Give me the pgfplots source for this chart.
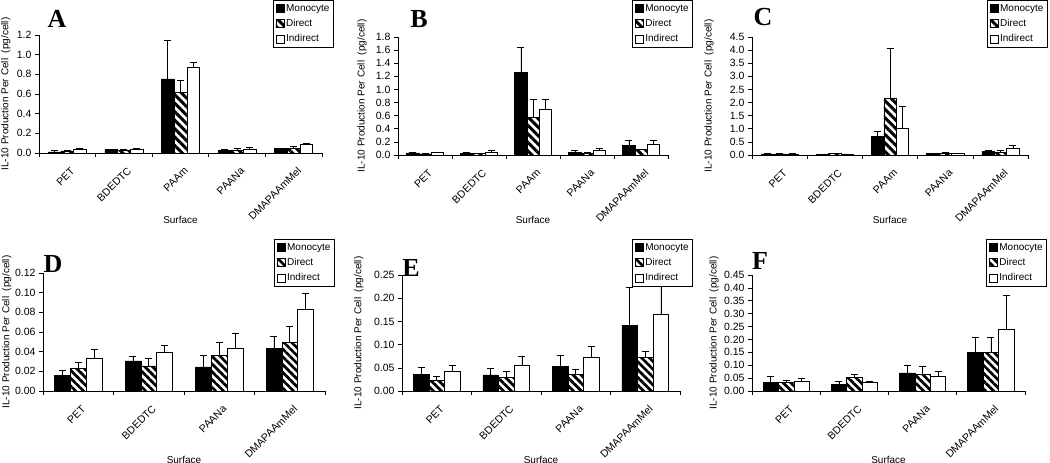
\documentclass[border=0pt]{standalone}
\usepackage{fontspec}
\setmainfont{Liberation Sans}
\newfontfamily\serifbold{Liberation Serif}
\usepackage{pgfplots}
\pgfplotsset{compat=1.18}
\usepackage{pgfplotstable}
\usetikzlibrary{patterns.meta}

% x = category, m/d/i = Monocyte/Direct/Indirect, e = upper error
\pgfplotstableread{
x m me d de i ie
1 0.012 0.012 0.022 0.006 0.038 0.005
2 0.035 0.004 0.025 0.010 0.042 0.003
3 0.754 0.389 0.619 0.120 0.871 0.048
4 0.027 0.006 0.032 0.018 0.042 0.012
5 0.045 0.005 0.050 0.015 0.088 0.007
}\dataA
\pgfplotstableread{
x m me d de i ie
1 0.032 0.012 0.018 0.006 0.035 0.010
2 0.025 0.020 0.020 0.010 0.045 0.025
3 1.264 0.374 0.576 0.268 0.703 0.141
4 0.045 0.025 0.028 0.012 0.065 0.030
5 0.142 0.086 0.080 0.010 0.170 0.058
}\dataB
\pgfplotstableread{
x m me d de i ie
1 0.040 0.010 0.040 0.010 0.040 0.010
2 0.020 0.005 0.050 0.010 0.020 0.005
3 0.710 0.180 2.150 1.920 1.030 0.825
4 0.060 0.020 0.070 0.020 0.060 0.005
5 0.130 0.060 0.100 0.080 0.250 0.130
}\dataC
\pgfplotstableread{
x m me d de i ie
1 0.0157 0.0058 0.0228 0.0065 0.0330 0.0090
2 0.0307 0.0041 0.0256 0.0074 0.0395 0.0069
3 0.0245 0.0116 0.0358 0.0140 0.0430 0.0156
4 0.0436 0.0116 0.0498 0.0163 0.0835 0.0157
}\dataD
\pgfplotstableread{
x m me d de i ie
1 0.0360 0.0160 0.0230 0.0090 0.0420 0.0130
2 0.0346 0.0154 0.0300 0.0120 0.0550 0.0200
3 0.0526 0.0238 0.0360 0.0116 0.0728 0.0237
4 0.1420 0.0806 0.0720 0.0137 0.1657 0.1000
}\dataE
\pgfplotstableread{
x m me d de i ie
1 0.0320 0.0250 0.0320 0.0095 0.0390 0.0116
2 0.0246 0.0114 0.0520 0.0130 0.0340 0.0040
3 0.0700 0.0310 0.0650 0.0310 0.0570 0.0180
4 0.1500 0.0600 0.1500 0.0575 0.2400 0.1300
}\dataF

\pgfplotsset{
  panel/.style={
    scale only axis,
    anchor=south west,
    axis lines*=left,
    axis line style={black, line width=0.8pt},
    tick align=outside,
    major tick length=4pt, minor tick length=4pt,
    ymin=0, xmin=0.5,
    ybar=0pt,
    every major x tick/.append style={draw=none},
    every minor x tick/.append style={black, line width=0.6pt},
    ytick style={black, line width=0.6pt},
    tick label style={font=\fontsize{10.5}{12}\selectfont},
    /pgf/number format/assume math mode=true,
    xticklabel style={rotate=45, anchor=north east, inner sep=1.5pt, xshift=-3pt, yshift=-7pt},
    label style={font=\fontsize{10.5}{12}\selectfont},
    xlabel={Surface},
    ylabel={IL-10 Production Per Cell\ \ (pg/cell)},
    legend image code/.code={\draw[##1] (0pt,-4pt) rectangle (8pt,4pt);},
    legend style={font=\fontsize{10}{12}\selectfont, anchor=north east,
      draw=black, line width=0.8pt, inner sep=2pt, row sep=2.5pt},
    legend cell align=left,
  },
  prec1/.style={yticklabel style={/pgf/number format/.cd, fixed, fixed zerofill, precision=1}},
  prec2/.style={yticklabel style={/pgf/number format/.cd, fixed, fixed zerofill, precision=2}},
  five/.style={xmax=5.5, xtick={1,2,3,4,5}, minor xtick={0.5,1.5,2.5,3.5,4.5,5.5},
    xticklabels={PET,BDEDTC,PAAm,PAANa,DMAPAAmMel}},
  four/.style={xmax=4.5, xtick={1,2,3,4}, minor xtick={0.5,1.5,2.5,3.5,4.5},
    xticklabels={PET,BDEDTC,PAANa,DMAPAAmMel}},
  ylabx/.style={every axis y label/.style={at={(axis description cs:#1,0.5)}, rotate=90, anchor=center}},
  xlaby/.style={every axis x label/.style={at={(axis description cs:0.5,#1)}, anchor=center}},
  errs/.style={error bars/y dir=plus, error bars/y explicit,
    error bars/error bar style={black, line width=0.6pt},
    error bars/error mark options={rotate=90, black, line width=0.6pt, mark size=3.5pt}},
  mono/.style={fill=black, draw=black, line width=0.6pt, errs},
  dirA/.style={draw=black, line width=0.6pt, pattern={Lines[angle=-45,distance=6pt,line width=3pt]}, pattern color=black, errs},
  dirB/.style={draw=black, line width=0.6pt, pattern={Lines[angle=-45,distance=5.5pt,line width=2.7pt]}, pattern color=black, errs},
  indi/.style={fill=white, draw=black, line width=0.6pt, errs},
}

\begin{document}
\begin{tikzpicture}
\useasboundingbox (0,0) rectangle (1050pt,463pt);

% ---------- A ----------
\begin{axis}[panel, five, prec1, at={(39pt,310pt)}, width=283pt, height=118pt,
  ymax=1.2, ytick={0,0.2,0.4,0.6,0.8,1.0,1.2}, bar width=12.7pt,
  ylabx=-0.117, xlaby=-0.568, legend style={at={(1.042,1.297)}}]
\addplot[mono] table[x=x, y=m, y error=me] {\dataA};
\addplot[dirA] table[x=x, y=d, y error=de] {\dataA};
\addplot[indi] table[x=x, y=i, y error=ie] {\dataA};
\legend{Monocyte, Direct, Indirect}
\end{axis}

% ---------- B ----------
\begin{axis}[panel, five, prec1, at={(398pt,308pt)}, width=270pt, height=118pt,
  ymax=1.8, ytick={0,0.2,0.4,0.6,0.8,1.0,1.2,1.4,1.6,1.8}, bar width=12.2pt,
  ylabx=-0.133, xlaby=-0.55, legend style={at={(1.093,1.314)}}]
\addplot[mono] table[x=x, y=m, y error=me] {\dataB};
\addplot[dirA] table[x=x, y=d, y error=de] {\dataB};
\addplot[indi] table[x=x, y=i, y error=ie] {\dataB};
\legend{Monocyte, Direct, Indirect}
\end{axis}

% ---------- C ----------
\begin{axis}[panel, five, prec1, at={(752pt,308pt)}, width=276pt, height=118pt,
  ymax=4.5, ytick={0,0.5,1.0,1.5,2.0,2.5,3.0,3.5,4.0,4.5}, bar width=12.4pt,
  ylabx=-0.156, xlaby=-0.55, legend style={at={(1.072,1.314)}}]
\addplot[mono] table[x=x, y=m, y error=me] {\dataC};
\addplot[dirA] table[x=x, y=d, y error=de] {\dataC};
\addplot[indi] table[x=x, y=i, y error=ie] {\dataC};
\legend{Monocyte, Direct, Indirect}
\end{axis}

% ---------- D ----------
\begin{axis}[panel, four, prec2, at={(43pt,72pt)}, width=282pt, height=118pt,
  ymax=0.12, ytick={0,0.02,0.04,0.06,0.08,0.10,0.12}, bar width=15.8pt,
  ylabx=-0.128, xlaby=-0.585, legend style={at={(1.035,1.288)}}]
\addplot[mono] table[x=x, y=m, y error=me] {\dataD};
\addplot[dirB] table[x=x, y=d, y error=de] {\dataD};
\addplot[indi] table[x=x, y=i, y error=ie] {\dataD};
\legend{Monocyte, Direct, Indirect}
\end{axis}

% ---------- E ----------
\begin{axis}[panel, four, prec2, at={(402pt,72pt)}, width=278pt, height=116pt,
  ymax=0.25, ytick={0,0.05,0.10,0.15,0.20,0.25}, bar width=15.6pt,
  ylabx=-0.155, xlaby=-0.595, legend style={at={(1.047,1.31)}}]
\addplot[mono] table[x=x, y=m, y error=me] {\dataE};
\addplot[dirB] table[x=x, y=d, y error=de] {\dataE};
\addplot[indi] table[x=x, y=i, y error=ie] {\dataE};
\legend{Monocyte, Direct, Indirect}
\end{axis}

% ---------- F ----------
\begin{axis}[panel, four, prec2, at={(752pt,72pt)}, width=273pt, height=116pt,
  ymax=0.45, ytick={0,0.05,0.10,0.15,0.20,0.25,0.30,0.35,0.40,0.45}, bar width=15.4pt,
  ylabx=-0.139, xlaby=-0.595, legend style={at={(1.081,1.31)}}]
\addplot[mono] table[x=x, y=m, y error=me] {\dataF};
\addplot[dirB] table[x=x, y=d, y error=de] {\dataF};
\addplot[indi] table[x=x, y=i, y error=ie] {\dataF};
\legend{Monocyte, Direct, Indirect}
\end{axis}

\begin{scope}[every node/.style={font=\serifbold\bfseries\fontsize{26}{26}\selectfont, inner sep=0pt}]
\node at (57pt,444pt) {A};
\node at (419pt,444pt) {B};
\node at (763pt,446pt) {C};
\node at (53pt,199pt) {D};
\node at (411pt,195pt) {E};
\node at (760pt,202pt) {F};
\end{scope}
\end{tikzpicture}
\end{document}
